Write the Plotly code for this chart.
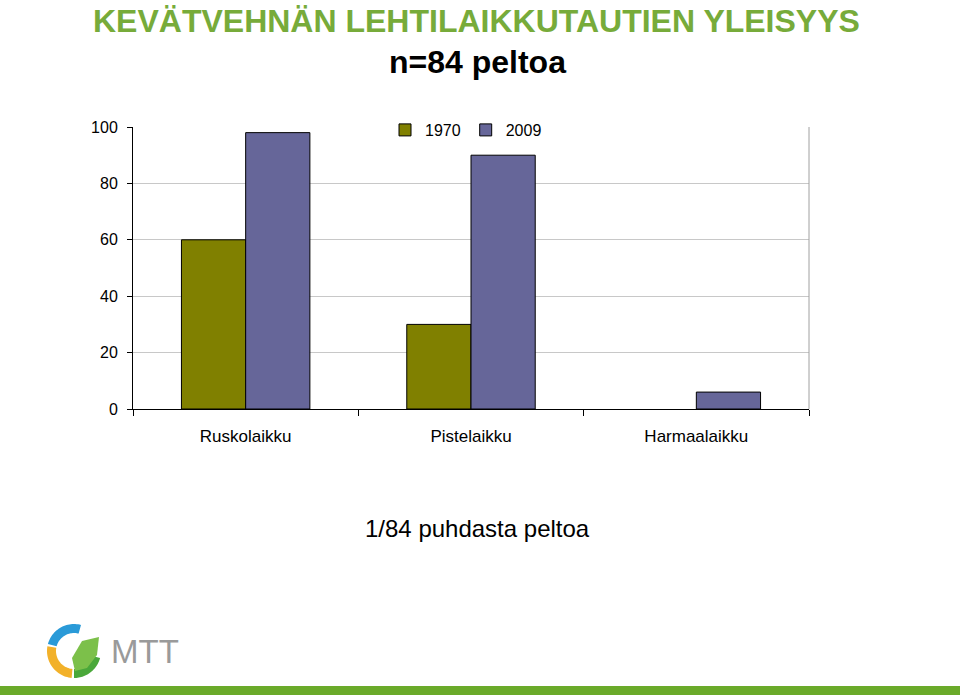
import numpy as np
import plotly.graph_objects as go

categories = ["Ruskolaikku", "Pistelaikku", "Harmaalaikku"]
series_names = ["1970", "2009"]
values_1970 = [60, 30, 0]
values_2009 = [98, 90, 6]
y_ticks = [0, 20, 40, 60, 80, 100]

L, R, T, B = 133, 809, 127, 409
W, H = 960, 695


def px(x):
    return (x - L) / (R - L)


def py(y):
    return (B - y) / (B - T)


def outline(vals):
    return [1 if v > 0 else 0 for v in vals]


fig = go.Figure()
fig.add_trace(go.Bar(name=series_names[0], x=categories, y=values_1970,
                     marker=dict(color="#808000", line=dict(color="black", width=outline(values_1970)))))
fig.add_trace(go.Bar(name=series_names[1], x=categories, y=values_2009,
                     marker=dict(color="#666699", line=dict(color="black", width=outline(values_2009)))))

fig.update_layout(
    width=W, height=H,
    margin=dict(l=L, r=W - R, t=T, b=H - B),
    paper_bgcolor="white", plot_bgcolor="white",
    barmode="group", bargap=0.43, bargroupgap=0,
    font=dict(family="Liberation Sans, Arial, sans-serif", color="black", size=16),
    showlegend=True,
    legend=dict(orientation="h", x=px(466), xanchor="center", y=py(130), yanchor="middle",
                bgcolor="white", font=dict(size=16), traceorder="normal",
                itemwidth=30),
)
fig.update_yaxes(range=[0, 100], tickvals=y_ticks, showgrid=True, gridcolor="#c8c8c8",
                 gridwidth=1, showline=True, linecolor="black", linewidth=1,
                 ticks="outside", ticklen=5, tickcolor="black", zeroline=False,
                 ticklabelstandoff=6, tickfont=dict(size=16))
fig.update_xaxes(showline=True, linecolor="black", linewidth=1, ticks="outside",
                 tickson="boundaries", ticklen=6, tickcolor="black",
                 ticklabelstandoff=12, tickfont=dict(size=17))

# right border of plot area
fig.add_shape(type="line", xref="paper", yref="paper", x0=1, x1=1, y0=0, y1=1,
              line=dict(color="#a0a0a0", width=1))

# texts
fig.add_annotation(text="<b>KEVÄTVEHNÄN LEHTILAIKKUTAUTIEN YLEISYYS</b>", xref="paper", yref="paper",
                   x=px(476), y=py(21), showarrow=False, xanchor="center", yanchor="middle",
                   font=dict(family="Liberation Sans Narrow, Arial Narrow, Liberation Sans, sans-serif", size=32,
                             color="#77ab3a"))
fig.add_annotation(text="<b>n=84 peltoa</b>", xref="paper", yref="paper",
                   x=px(477), y=py(62), showarrow=False, xanchor="center", yanchor="middle",
                   font=dict(family="Liberation Sans Narrow, Arial Narrow, Liberation Sans, sans-serif", size=32,
                             color="black"))
fig.add_annotation(text="1/84 puhdasta peltoa", xref="paper", yref="paper",
                   x=px(477), y=py(528), showarrow=False, xanchor="center", yanchor="middle",
                   font=dict(size=24, color="black"))

# bottom green band
fig.add_shape(type="rect", xref="paper", yref="paper", x0=px(0), x1=px(W), y0=py(686), y1=py(H + 2),
              line=dict(width=0), fillcolor="#6aaa2a", layer="above")


# logo
def arc_path(cx, cy, r1, r2, a0, a1, n=30):
    t = np.radians(np.linspace(a0, a1, n))
    outer = [(cx + r2 * np.cos(a), cy - r2 * np.sin(a)) for a in t]
    inner = [(cx + r1 * np.cos(a), cy - r1 * np.sin(a)) for a in t[::-1]]
    pts = outer + inner
    s = "M " + " L ".join(f"{px(x):.5f},{py(y):.5f}" for x, y in pts) + " Z"
    return s


cx, cy = 74, 651
fig.add_shape(type="path", xref="paper", yref="paper", path=arc_path(cx, cy, 18, 27, 75, 165),
              fillcolor="#2a9ad8", line=dict(width=0))
fig.add_shape(type="path", xref="paper", yref="paper", path=arc_path(cx, cy, 18, 27, 170, 265),
              fillcolor="#f2b12a", line=dict(width=0))
fig.add_shape(type="path", xref="paper", yref="paper", path=arc_path(cx, cy, 18, 27, 270, 345),
              fillcolor="#4aa83a", line=dict(width=0))
# leaf
leaf = [(75, 671), (72, 658), (82, 641), (99, 637), (97, 655), (87, 668)]
fig.add_shape(type="path", xref="paper", yref="paper",
              path="M " + " L ".join(f"{px(x):.5f},{py(y):.5f}" for x, y in leaf) + " Z",
              fillcolor="#7cc04a", line=dict(width=0))
fig.add_annotation(text="MTT", xref="paper", yref="paper", x=px(109), y=py(651), showarrow=False,
                   xanchor="left", yanchor="middle",
                   font=dict(family="Liberation Sans, Arial, sans-serif", size=33, color="#9a9a9a"))

fig.write_html("out.html")
